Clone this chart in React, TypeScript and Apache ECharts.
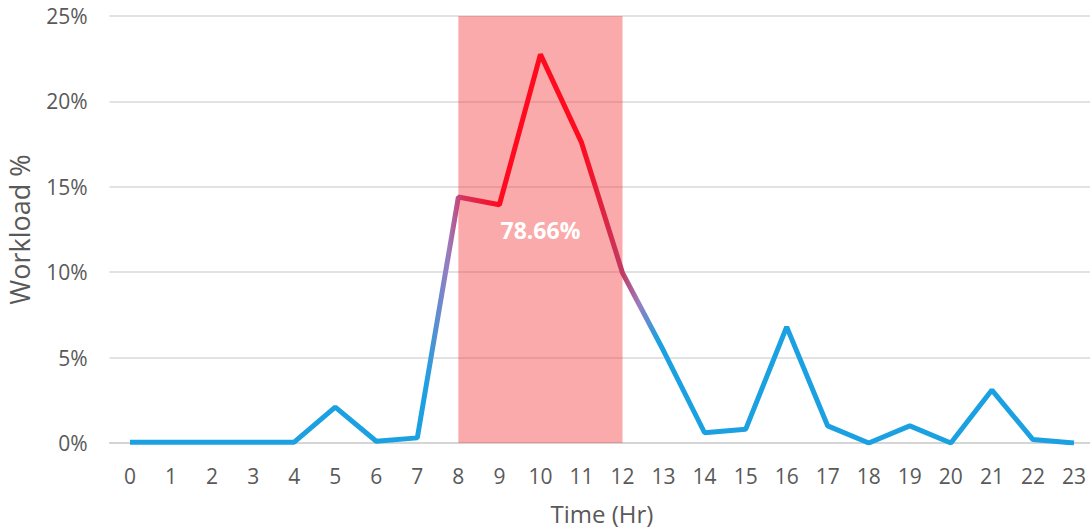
import React, { useEffect, useRef } from "react";
import * as echarts from "echarts";

// Hour of day (x axis categories)
const hours: string[] = [
  "0", "1", "2", "3", "4", "5", "6", "7", "8", "9", "10", "11",
  "12", "13", "14", "15", "16", "17", "18", "19", "20", "21", "22", "23",
];

// Share of the daily workload in each hour, percent
const workload: number[] = [
  0.05, 0.05, 0.05, 0.05, 0.05, 2.1, 0.1, 0.3, 14.4, 13.95, 22.75, 17.6,
  9.96, 5.4, 0.6, 0.8, 6.8, 1.0, 0.0, 1.0, 0.0, 3.1, 0.2, 0.0,
];

// Peak window that gets highlighted
const peakStart = "8";
const peakEnd = "12";

const yTicks = { min: 0, max: 25, interval: 5 };

const BLUE = "#1ba1e2";
const PURPLE = "#9a7cc0";
const CRIMSON = "#d3345f";
const RED = "#ff0a1e";
const TEXT = "#595959";

export default function App() {
  const ref = useRef<HTMLDivElement>(null);

  useEffect(() => {
    if (!ref.current) return;
    const chart = echarts.init(ref.current, undefined, { renderer: "svg" });

    const i0 = hours.indexOf(peakStart);
    const i1 = hours.indexOf(peakEnd);
    const peakShare = workload.slice(i0, i1 + 1).reduce((a, b) => a + b, 0);
    const last = hours.length - 1;
    const at = (h: number) => h / last;

    // Colour runs blue -> purple -> red into the peak hours and back out again
    const gradient = new echarts.graphic.LinearGradient(0, 0, 1, 0, [
      { offset: 0, color: BLUE },
      { offset: at(7.2), color: BLUE },
      { offset: at(7.75), color: PURPLE },
      { offset: at(8.1), color: CRIMSON },
      { offset: at(9), color: RED },
      { offset: at(11), color: RED },
      { offset: at(12), color: "#c23a62" },
      { offset: at(12.4), color: PURPLE },
      { offset: at(12.85), color: BLUE },
      { offset: 1, color: BLUE },
    ]);

    chart.setOption({
      animation: false,
      grid: {
        left: 109.5,
        top: 16,
        width: 985,
        height: 427,
        containLabel: false,
        outerBoundsMode: "none",
      },
      xAxis: {
        type: "category",
        data: hours,
        boundaryGap: true,
        name: "Time (Hr)",
        nameLocation: "middle",
        nameGap: 58,
        nameTextStyle: { color: TEXT, fontSize: 24, fontFamily: "Open Sans" },
        axisTick: { show: false },
        axisLine: { lineStyle: { color: "#d0d0d0", width: 1.5 } },
        axisLabel: { color: TEXT, fontSize: 21, fontFamily: "Open Sans", margin: 22 },
      },
      yAxis: {
        type: "value",
        min: yTicks.min,
        max: yTicks.max,
        interval: yTicks.interval,
        name: "Workload %",
        nameLocation: "middle",
        nameGap: 77,
        nameTextStyle: { color: TEXT, fontSize: 27, fontFamily: "Open Sans" },
        axisLabel: {
          color: TEXT,
          fontSize: 21,
          fontFamily: "Open Sans",
          margin: 22,
          formatter: "{value}%",
        },
        splitLine: { lineStyle: { color: "#d9d9d9", width: 1.5 } },
      },
      series: [
        {
          type: "line",
          data: workload,
          showSymbol: false,
          lineStyle: { width: 5, color: gradient },
          markArea: {
            silent: true,
            itemStyle: { color: "rgba(244,67,67,0.45)" },
            label: {
              show: true,
              position: "inside",
              color: "#ffffff",
              fontSize: 23,
              fontWeight: "bold",
              fontFamily: "Open Sans",
              formatter: () => peakShare.toFixed(2) + "%",
            },
            data: [[{ xAxis: peakStart }, { xAxis: peakEnd }]],
          },
        },
      ],
    });

    return () => chart.dispose();
  }, []);

  return (
    <div
      style={{
        position: "fixed",
        left: 0,
        top: 0,
        width: 1090,
        height: 529,
        overflow: "hidden",
        background: "#ffffff",
      }}
    >
      <div ref={ref} style={{ width: 1100, height: 529 }} />
    </div>
  );
}
